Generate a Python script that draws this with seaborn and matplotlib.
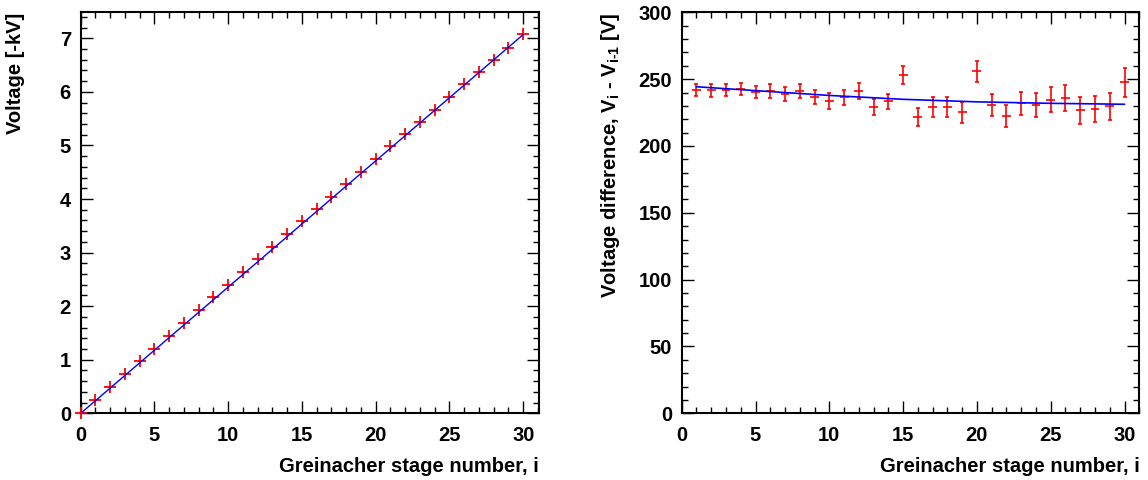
import matplotlib
matplotlib.use("Agg")
import matplotlib.pyplot as plt
import seaborn as sns
import numpy as np
import pandas as pd
from matplotlib.ticker import MultipleLocator

# ---------------- data ----------------
stage = list(range(0, 31))
voltage_kv = [0.0, 0.242, 0.483, 0.725, 0.968, 1.208, 1.449, 1.688, 1.930, 2.166,
              2.400, 2.637, 2.878, 3.107, 3.341, 3.594, 3.815, 4.045, 4.274, 4.499,
              4.755, 4.985, 5.207, 5.439, 5.670, 5.905, 6.141, 6.367, 6.595, 6.825,
              7.072]

stage_diff = list(range(1, 31))
diff_v = [241.6, 241.6, 242.0, 242.6, 240.4, 241.0, 239.1, 241.3, 236.8, 233.6,
          236.5, 241.4, 229.3, 233.3, 253.0, 221.9, 229.1, 229.1, 225.1, 255.8,
          230.8, 222.1, 231.8, 230.8, 234.6, 236.0, 226.6, 227.7, 229.6, 247.5]
diff_err = [4.5, 4.75, 4.6, 4.75, 4.6, 5.0, 5.1, 5.4, 5.4, 5.75,
            5.6, 6.0, 6.1, 5.9, 6.5, 6.75, 7.4, 7.6, 7.75, 7.75,
            8.25, 8.25, 8.6, 9.0, 9.4, 9.6, 9.9, 10.0, 10.4, 10.6]
stage_err = 0.3

fit_left_stage = [0, 30]
fit_left_kv = [0.0, 7.07]
fit_right_stage = [1, 5, 10, 15, 20, 25, 30]
fit_right_v = [244.3, 241.4, 237.8, 234.9, 233.0, 231.9, 231.2]

xlabel = "Greinacher stage number, i"
ylabel_left = "Voltage [-kV]"
ylabel_right = r"Voltage difference, V$_{\mathbf{i}}$ - V$_{\mathbf{i\text{-}1}}$ [V]"

# ---------------- style ----------------
sns.set_theme(style="ticks")
plt.rcParams["font.family"] = ["Liberation Sans", "DejaVu Sans"]
plt.rcParams["font.weight"] = "bold"
plt.rcParams["text.color"] = "black"
plt.rcParams["axes.labelcolor"] = "black"
plt.rcParams["xtick.color"] = "black"
plt.rcParams["ytick.color"] = "black"
plt.rcParams["mathtext.fontset"] = "custom"
plt.rcParams["mathtext.bf"] = "Liberation Sans:bold"
plt.rcParams["mathtext.rm"] = "Liberation Sans:bold"
plt.rcParams["mathtext.default"] = "bf"

fig = plt.figure(figsize=(11.48, 4.8), dpi=100)
W, H = 1148, 480
ax1 = fig.add_axes([80.7 / W, (H - 413.3) / H, (539.0 - 80.7) / W, (413.3 - 12.3) / H])
ax2 = fig.add_axes([681.7 / W, (H - 413.3) / H, (1139.3 - 681.7) / W, (413.3 - 12.3) / H])

df_left = pd.DataFrame({"stage": stage, "kv": voltage_kv})
df_fit_l = pd.DataFrame({"stage": fit_left_stage, "kv": fit_left_kv})
sns.scatterplot(data=df_left, x="stage", y="kv", marker="+", s=80, color="red",
                linewidth=1.3, ax=ax1, zorder=3, clip_on=False)
sns.lineplot(data=df_fit_l, x="stage", y="kv", color="blue", linewidth=1.0, ax=ax1, zorder=4)

df_right = pd.DataFrame({"stage": stage_diff, "dv": diff_v, "err": diff_err})
df_fit_r = pd.DataFrame({"stage": fit_right_stage, "dv": fit_right_v})
ax2.errorbar(df_right["stage"], df_right["dv"], yerr=df_right["err"], fmt="none",
             ecolor="red", elinewidth=1.2, capsize=1.6, capthick=1.2, zorder=3)
ax2.errorbar(df_right["stage"], df_right["dv"], xerr=stage_err, fmt="none",
             ecolor="red", elinewidth=1.2, capsize=0, zorder=3)
sns.lineplot(data=df_fit_r, x="stage", y="dv", color="blue", linewidth=1.2, ax=ax2, zorder=4)

def style(ax, ylim, ymaj, ymin, ylab, ylab_x):
    ax.set_xlim(0, 31.07)
    ax.set_ylim(*ylim)
    ax.xaxis.set_major_locator(MultipleLocator(5))
    ax.xaxis.set_minor_locator(MultipleLocator(1))
    ax.yaxis.set_major_locator(MultipleLocator(ymaj))
    ax.yaxis.set_minor_locator(MultipleLocator(ymin))
    ax.tick_params(which="both", direction="in", top=True, right=True,
                   colors="black", labelcolor="black", labelsize=14.5)
    ax.tick_params(which="major", length=8.6, width=1.0)
    ax.tick_params(which="minor", length=4.3, width=1.0)
    ax.tick_params(axis="x", which="major", pad=9)
    ax.tick_params(axis="y", which="major", pad=7)
    for sp in ax.spines.values():
        sp.set_linewidth(1.5)
        sp.set_color("black")
    for lab in ax.get_xticklabels() + ax.get_yticklabels():
        lab.set_fontweight("bold")
        lab.set_color("black")
    ax.set_xlabel(xlabel, fontsize=14.5, fontweight="bold", ha="right", color="black")
    ax.xaxis.set_label_coords(1.0, -0.108)
    ax.xaxis.label.set_va("top")
    ax.set_ylabel(ylab, fontsize=14.5, fontweight="bold", ha="right", color="black")
    ax.yaxis.set_label_coords(ylab_x, 1.0)
    ax.grid(False)

style(ax1, (0, 7.486), 1, 0.2, ylabel_left, -0.122)
style(ax2, (0, 300), 50, 10, ylabel_right, -0.131)
ax2.set_xlim(0, 31.0)

fig.savefig("out.png", dpi=100)
